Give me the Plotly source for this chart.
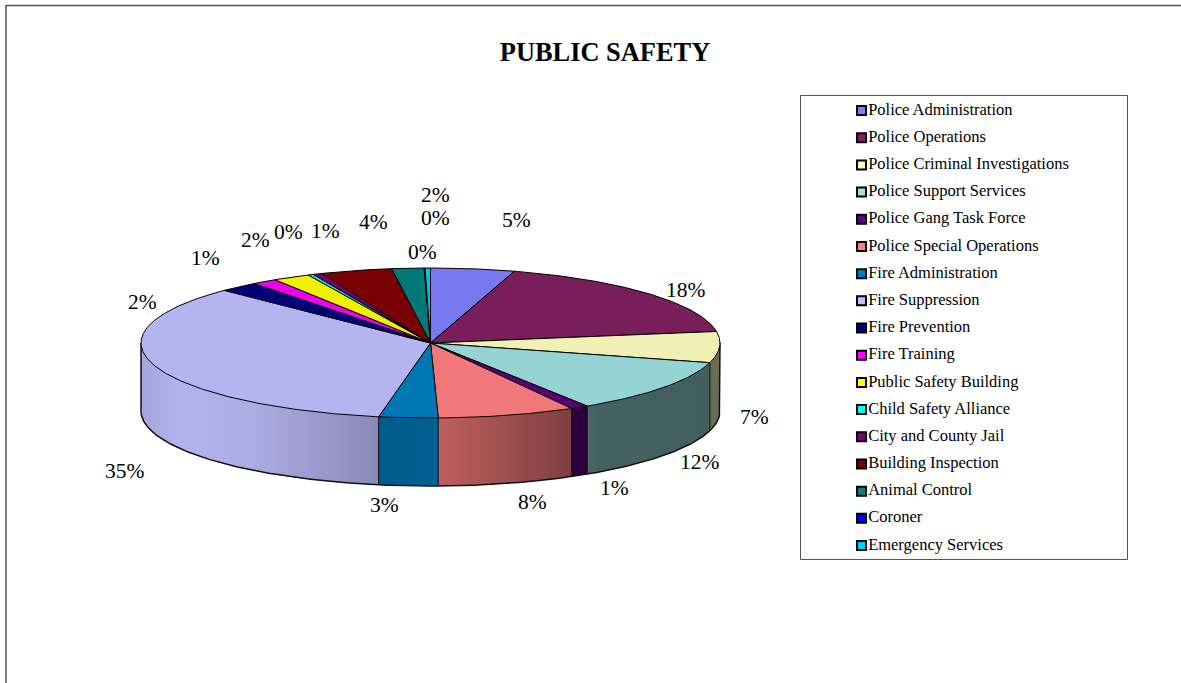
import numpy as np
import plotly.graph_objects as go

TITLE = "PUBLIC SAFETY"
categories = ["Police Administration", "Police Operations", "Police Criminal Investigations",
              "Police Support Services", "Police Gang Task Force", "Police Special Operations",
              "Fire Administration", "Fire Suppression", "Fire Prevention", "Fire Training",
              "Public Safety Building", "Child Safety Alliance", "City and County Jail",
              "Building Inspection", "Animal Control", "Coroner", "Emergency Services"]
values = [4.7, 17.9, 6.7, 11.7, 1.0, 7.7, 3.3, 34.6, 2.2, 1.4, 2.1, 0.3, 0.5, 4.0, 1.8, 0.05, 0.3]
pct_labels = ["5%", "18%", "7%", "12%", "1%", "8%", "3%", "35%", "2%", "1%", "2%", "0%", "1%", "4%", "2%", "0%", "0%"]
colors = ["#8080FF", "#802060", "#FFFFC0", "#A0E0E0", "#600080", "#FF8080", "#0080C0", "#C0C0FF",
          "#000080", "#FF00FF", "#FFFF00", "#00FFFF", "#800080", "#800000", "#008080", "#0000FF", "#00CCFF"]
# hand-placed label anchors (pixels), as in the source chart
label_pos = [(516, 220), (686, 290), (754, 417), (700, 462), (614, 488), (532, 502), (384, 505), (125, 471),
             (142, 302), (205, 258), (255, 240), (288, 232), (325, 231), (373, 222), (435, 195), (435, 218), (422, 252)]

W, H = 1181, 683
CX, CY, RX, RY, DEPTH = 430.5, 343.0, 289.5, 75.0, 68.0
FONT = "Liberation Serif, Times New Roman, serif"

def rgb(c):
    return np.array([int(c[i:i + 2], 16) for i in (1, 3, 5)], float)

def shade(c, f):
    r = np.clip(rgb(c) * f, 0, 255).round().astype(int)
    return f"rgb({r[0]},{r[1]},{r[2]})"

def px(theta):
    return CX + RX * np.sin(theta)

def py(theta):
    return CY - RY * np.cos(theta)

def wall_shade(x):
    return float(np.interp(x, [141, 180, 250, 377, 437, 570, 600, 720],
                              [.86, .93, .90, .72, .75, .50, .43, .42]))

v = np.array(values, float)
edges = np.concatenate([[0], np.cumsum(v) / v.sum() * 2 * np.pi])
fig = go.Figure()

# side wall: each strip runs to the slice's far end and is overpainted by the next, so no seams show
for i, c in enumerate(colors):
    a, b = max(edges[i], np.pi / 2), min(edges[i + 1], 3 * np.pi / 2)
    if b <= a:
        continue
    n = max(1, int(abs(px(a) - px(b)) / 3))
    xs = np.linspace(px(a), px(b), n + 1)
    ts = np.pi - np.arcsin(np.clip((xs - CX) / RX, -1, 1))
    last = None
    for k in range(n):
        col = shade(c, wall_shade((xs[k] + xs[k + 1]) / 2))
        if col == last:
            continue
        last = col
        tt = np.linspace(ts[k], ts[-1], 60)
        fig.add_trace(go.Scatter(
            x=np.r_[px(tt), px(tt[::-1])], y=np.r_[py(tt), py(tt[::-1]) + DEPTH],
            mode="lines", fill="toself", fillcolor=col, line=dict(width=0),
            hoverinfo="skip", showlegend=False))

# wall outlines
for e in edges:
    if np.pi / 2 < e < 3 * np.pi / 2:
        fig.add_trace(go.Scatter(x=[px(e), px(e)], y=[py(e), py(e) + DEPTH], mode="lines",
                                 line=dict(color="#111111", width=1), hoverinfo="skip", showlegend=False))
tb = np.linspace(np.pi / 2, 3 * np.pi / 2, 240)
fig.add_trace(go.Scatter(x=np.r_[px(tb[0]), px(tb), px(tb[-1])],
                         y=np.r_[py(tb[0]), py(tb) + DEPTH, py(tb[-1])], mode="lines",
                         line=dict(color="#111111", width=1.5), hoverinfo="skip", showlegend=False))

# top face
for i, (name, c) in enumerate(zip(categories, colors)):
    n = max(2, int((edges[i + 1] - edges[i]) / 0.01))
    tt = np.linspace(edges[i], edges[i + 1], n)
    fig.add_trace(go.Scatter(x=np.r_[CX, px(tt), CX], y=np.r_[CY, py(tt), CY],
                             mode="lines", fill="toself", fillcolor=shade(c, .94),
                             line=dict(color="#000000", width=1), name=name,
                             hoveron="fills", text=f"{name}: {pct_labels[i]}", hoverinfo="text",
                             showlegend=False))

# legend, drawn as a keyed column inside a ruled box
ly = np.linspace(110.5, 545.5, len(categories))
fig.add_trace(go.Scatter(x=[861.5] * len(categories), y=ly, mode="markers+text", text=categories,
                         textposition="middle right",
                         textfont=dict(family=FONT, size=16.5, color="#000000"),
                         marker=dict(symbol="square", size=9, color=colors, line=dict(color="#000000", width=2)),
                         hoverinfo="text", showlegend=False))

annotations = [dict(x=p[0], y=p[1], xref="x", yref="y", text=t, showarrow=False,
                    font=dict(family=FONT, size=21.5, color="#000000"))
               for t, p in zip(pct_labels, label_pos)]

shapes = [
    dict(type="rect", xref="x", yref="y", x0=800.5, x1=1127.5, y0=95.5, y1=559.5,
         line=dict(color="#555555", width=1)),
    dict(type="line", xref="x", yref="y", x0=6, x1=W, y0=5.5, y1=5.5, line=dict(color="#555555", width=1.5)),
    dict(type="line", xref="x", yref="y", x0=6, x1=6, y0=5, y1=H, line=dict(color="#555555", width=1.5)),
]

fig.update_layout(
    width=W, height=H, margin=dict(l=0, r=0, t=0, b=0), autosize=False,
    paper_bgcolor="white", plot_bgcolor="white", showlegend=False,
    title=dict(text=f"<b>{TITLE}</b>", x=605 / W, xanchor="center", y=1 - 52 / H, yanchor="middle",
               font=dict(family=FONT, size=26.4, color="#000000")),
    xaxis=dict(range=[0, W], visible=False, fixedrange=True),
    yaxis=dict(range=[H, 0], visible=False, fixedrange=True),
    annotations=annotations, shapes=shapes,
)
fig.write_html("out.html", config=dict(displayModeBar=False),
               post_script="document.body.style.margin='0';document.documentElement.style.overflow='hidden';")
